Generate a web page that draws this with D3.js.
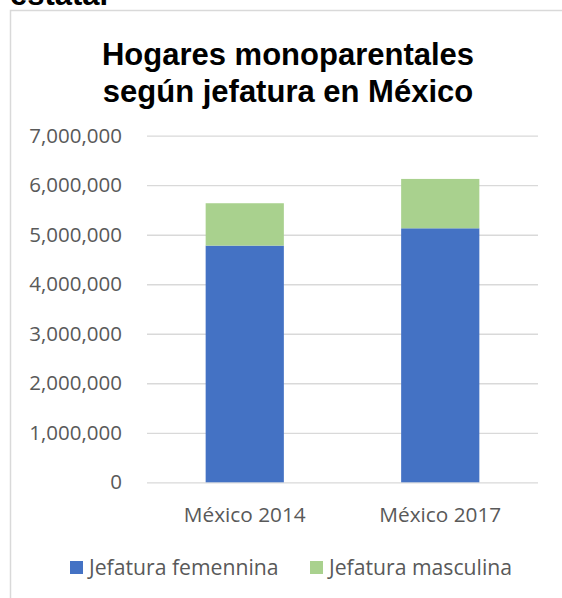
<!DOCTYPE html>
<html>
<head>
<meta charset="utf-8">
<script src="https://cdn.jsdelivr.net/npm/d3@7"></script>
<style>
  html, body { margin: 0; padding: 0; background: #fff; overflow: hidden; }
  svg { display: block; }
</style>
</head>
<body>
<svg id="chart" width="562" height="598"></svg>
<script>
// Hogares monoparentales por sexo de la jefatura
const categories = ["México 2014", "México 2017"];
const seriesNames = ["Jefatura femennina", "Jefatura masculina"];
const femenina = [4780000, 5130000];
const masculina = [856000, 997000];
const yTicks = [0, 1000000, 2000000, 3000000, 4000000, 5000000, 6000000, 7000000];
const titleLines = ["Hogares monoparentales", "según jefatura en México"];
const colors = ["#4472c4", "#a9d18e"];

const svg = d3.select("#chart");
const axisFont = "'Open Sans', 'Noto Sans', sans-serif";
const textGray = "#595959";
const gridGray = "#d9d9d9";

// heading of the surrounding document, cut by the top edge
svg.append("text")
  .attr("x", 10).attr("y", 5)
  .attr("font-family", "'Liberation Sans', Arial, sans-serif")
  .attr("font-weight", "bold").attr("font-size", 31)
  .attr("fill", "#000")
  .text("estatal");

// chart frame (continues past the right and bottom edges)
svg.append("path")
  .attr("d", "M10.5,640V10.5H640")
  .attr("fill", "none")
  .attr("stroke", gridGray).attr("stroke-width", 1.5);

// title
svg.append("g").selectAll("text")
  .data(titleLines)
  .join("text")
  .attr("x", 288).attr("y", (d, i) => 65 + i * 36.5)
  .attr("text-anchor", "middle")
  .attr("font-family", "'Liberation Sans', Arial, sans-serif")
  .attr("font-weight", "bold").attr("font-size", 31)
  .attr("fill", "#000")
  .text(d => d);

// scales
const plot = { left: 147, right: 538, top: 135.7, bottom: 482.3 };
const x = d3.scaleBand()
  .domain(categories)
  .range([plot.left, plot.right])
  .paddingInner(0.6).paddingOuter(0.3);
const y = d3.scaleLinear()
  .domain([0, 7000000])
  .range([plot.bottom, plot.top]);

// gridlines + y labels
const yAxis = svg.append("g")
  .attr("transform", `translate(${plot.left},0)`)
  .call(d3.axisLeft(y)
    .tickValues(yTicks)
    .tickFormat(d3.format(","))
    .tickSize(-(plot.right - plot.left))
    .tickPadding(25));
yAxis.select(".domain").remove();
yAxis.selectAll(".tick line")
  .attr("stroke", gridGray).attr("stroke-width", 1.3);
yAxis.selectAll(".tick text")
  .attr("font-family", axisFont).attr("font-size", 20.5)
  .attr("fill", textGray);

// stacked bars
const rows = categories.map((c, i) => ({ cat: c, [seriesNames[0]]: femenina[i], [seriesNames[1]]: masculina[i] }));
const stacked = d3.stack().keys(seriesNames)(rows);

svg.append("g").selectAll("g")
  .data(stacked)
  .join("g")
  .attr("fill", (d, i) => colors[i])
  .selectAll("rect")
  .data(d => d)
  .join("rect")
  .attr("x", d => x(d.data.cat))
  .attr("width", x.bandwidth())
  .attr("y", d => y(d[1]))
  .attr("height", d => y(d[0]) - y(d[1]));

// category labels
const xAxis = svg.append("g")
  .attr("transform", `translate(0,${plot.bottom})`)
  .call(d3.axisBottom(x).tickSize(0).tickPadding(25));
xAxis.select(".domain").remove();
xAxis.selectAll(".tick text")
  .attr("font-family", axisFont).attr("font-size", 20.8)
  .attr("fill", textGray);

// legend
const legendX = [70, 310];
const legend = svg.append("g").selectAll("g")
  .data(seriesNames)
  .join("g")
  .attr("transform", (d, i) => `translate(${legendX[i]},561)`);
legend.append("rect")
  .attr("width", 13).attr("height", 13)
  .attr("fill", (d, i) => colors[i]);
legend.append("text")
  .attr("x", 19).attr("y", 7)
  .attr("dy", "0.35em")
  .attr("font-family", axisFont).attr("font-size", 21.2)
  .attr("fill", textGray)
  .text(d => d);
</script>
</body>
</html>
